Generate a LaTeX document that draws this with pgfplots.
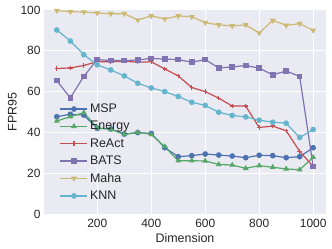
\documentclass[border=0pt]{standalone}
\usepackage{pgfplots}
\pgfplotsset{compat=1.18}
\usepackage{fontspec}
\setmainfont{Liberation Sans}
\definecolor{sbblue}{HTML}{4C72B0}
\definecolor{sbgreen}{HTML}{55A868}
\definecolor{sbred}{HTML}{C44E52}
\definecolor{sbpurple}{HTML}{8172B2}
\definecolor{sbyellow}{HTML}{CCB974}
\definecolor{sbcyan}{HTML}{64B5CD}
\definecolor{sbbg}{HTML}{EAEAF2}
\definecolor{sbtext}{HTML}{262626}
\begin{document}
\begin{tikzpicture}[x=1bp,y=1bp]
\begin{axis}[
  at={(0,0)}, anchor=south west,
  scale only axis, width=282bp, height=204bp,
  xmin=2.5, xmax=1047.5, ymin=0, ymax=100,
  xtick={200,400,600,800,1000}, ytick={0,20,40,60,80,100},
  /pgf/number format/set thousands separator={},
  axis background/.style={fill=sbbg},
  axis line style={draw=none},
  major tick length=0pt,
  grid=major, major grid style={white, line width=1bp},
  tick label style={font=\fontsize{12}{14}\selectfont, text=sbtext},
  /pgf/number format/assume math mode=true,
  xticklabel style={yshift=-2bp},
  yticklabel style={xshift=0bp},
  xlabel={Dimension}, ylabel={FPR95},
  label style={font=\fontsize{12.5}{14}\selectfont, text=sbtext},
  xlabel style={yshift=1.5bp},
  ylabel style={yshift=-3bp},
  legend style={draw=none, fill=none, at={(0.045,0.56)}, anchor=north west,
    font=\fontsize{12.5}{14}\selectfont, text=sbtext, row sep=3.2bp},
  legend cell align=left,
  legend image code/.code={
    \draw[mark repeat=2,mark phase=2] plot coordinates {(0bp,0bp) (13.5bp,0bp) (27bp,0bp)};},
  every axis plot/.append style={line width=1.2bp, mark size=2.2bp},
]
\addplot[sbblue, mark=*, mark options={draw=sbblue, fill=sbblue}] coordinates {
(50,47.7)(100,48.9)(150,48.5)(200,42.0)(250,41.7)(300,39.2)(350,39.9)(400,39.5)(450,32.5)(500,28.1)
(550,28.6)(600,29.4)(650,28.9)(700,28.4)(750,27.6)(800,28.8)(850,28.6)(900,27.6)(950,28.1)(1000,32.5)};
\addlegendentry{MSP}
\addplot[sbgreen, mark=triangle*, mark options={draw=sbgreen, fill=sbgreen}] coordinates {
(50,45.6)(100,47.7)(150,49.7)(200,42.2)(250,41.5)(300,39.0)(350,40.0)(400,39.0)(450,33.0)(500,26.1)
(550,26.1)(600,26.0)(650,24.3)(700,24.0)(750,22.4)(800,23.7)(850,22.9)(900,22.1)(950,21.7)(1000,27.8)};
\addlegendentry{Energy}
\addplot[sbred, mark=+, mark options={draw=sbred}] coordinates {
(50,71.3)(100,71.6)(150,72.8)(200,74.7)(250,74.6)(300,74.9)(350,74.4)(400,74.6)(450,71.1)(500,67.7)
(550,62.0)(600,60.0)(650,56.8)(700,52.9)(750,52.9)(800,42.4)(850,43.1)(900,40.8)(950,30.7)(1000,23.3)};
\addlegendentry{ReAct}
\addplot[sbpurple, mark=square*, mark options={draw=sbpurple, fill=sbpurple}] coordinates {
(50,65.4)(100,56.9)(150,67.5)(200,75.7)(250,75.2)(300,75.2)(350,75.5)(400,76.3)(450,75.9)(500,75.7)
(550,74.4)(600,75.7)(650,71.6)(700,72.1)(750,72.8)(800,71.5)(850,68.2)(900,70.1)(950,67.4)(1000,23.3)};
\addlegendentry{BATS}
\addplot[sbyellow, mark=triangle*, mark options={draw=sbyellow, fill=sbyellow, rotate=180}] coordinates {
(50,99.7)(100,99.2)(150,99.0)(200,98.5)(250,98.2)(300,98.2)(350,95.1)(400,97.1)(450,95.6)(500,97.1)
(550,96.7)(600,93.8)(650,92.7)(700,92.2)(750,92.7)(800,88.7)(850,94.9)(900,92.5)(950,93.3)(1000,90.0)};
\addlegendentry{Maha}
\addplot[sbcyan, mark=*, mark options={draw=sbcyan, fill=sbcyan}] coordinates {
(50,90.2)(100,84.8)(150,78.1)(200,73.1)(250,70.6)(300,67.7)(350,64.1)(400,61.8)(450,60.0)(500,57.6)
(550,54.8)(600,53.2)(650,49.9)(700,48.3)(750,47.6)(800,46.0)(850,45.0)(900,44.5)(950,37.5)(1000,41.4)};
\addlegendentry{KNN}
\end{axis}
\pgfresetboundingbox
\path[use as bounding box] (-44bp,-35bp) rectangle (288bp,214bp);
\end{tikzpicture}
\end{document}
